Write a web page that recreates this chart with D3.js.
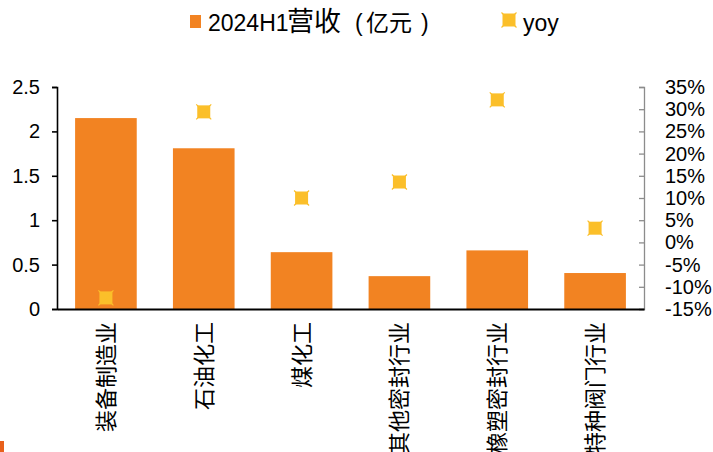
<!DOCTYPE html>
<html>
<head>
<meta charset="utf-8">
<script src="https://cdn.jsdelivr.net/npm/d3@7/dist/d3.min.js"></script>
<style>
  html, body { margin: 0; padding: 0; background: #fff; }
  svg { display: block; }
  text { font-family: "Liberation Sans", Arial, "Noto Sans CJK SC", sans-serif; }
</style>
</head>
<body>
<svg id="chart" width="713" height="452"></svg>
<script>
// 2024H1 revenue by segment (亿元) and year-over-year growth
const categories = ["装备制造业", "石油化工", "煤化工", "其他密封行业", "橡塑密封行业", "特种阀门行业"];
const revenue = [2.15, 1.81, 0.64, 0.37, 0.66, 0.405];
const yoy = [-12.5, 29.4, 10.0, 13.6, 32.1, 3.2];
const leftTicks = [0, 0.5, 1, 1.5, 2, 2.5];
const rightTicks = [-15, -10, -5, 0, 5, 10, 15, 20, 25, 30, 35];

const barColor = "#F28322";
const markColor = "#FBBF2A";

const svg = d3.select("#chart");
const plotL = 57, plotR = 644, plotT = 87, plotB = 309;

const x = d3.scaleBand().domain(categories).range([plotL, plotR]).paddingInner(0.37).paddingOuter(0.185);
const yL = d3.scaleLinear().domain([0, 2.5]).range([plotB, plotT]);
const yR = d3.scaleLinear().domain([-15, 35]).range([plotB, plotT]);

// bars
svg.append("g").selectAll("rect").data(categories).join("rect")
  .attr("x", d => x(d))
  .attr("width", x.bandwidth())
  .attr("y", (d, i) => yL(revenue[i]))
  .attr("height", (d, i) => yL(0) - yL(revenue[i]))
  .attr("fill", barColor);

// right axis (gray, ticks pointing inward)
const rAxis = svg.append("g").attr("transform", `translate(${plotR},0)`)
  .call(d3.axisLeft(yR).tickValues(rightTicks).tickSize(5).tickFormat(d => d + "%"));
rAxis.select(".domain").attr("stroke", "#8c8c8c").attr("stroke-width", 1.3);
rAxis.selectAll(".tick line").attr("stroke", "#8c8c8c").attr("stroke-width", 1.3);
rAxis.selectAll(".tick text")
  .attr("x", 21).attr("text-anchor", "start")
  .attr("font-size", 20).attr("fill", "#000")
  .attr("font-family", "'Liberation Sans', Arial, sans-serif");

// left axis
const lAxis = svg.append("g").attr("transform", `translate(${plotL},0)`)
  .call(d3.axisLeft(yL).tickValues(leftTicks).tickSize(5).tickFormat(d3.format("")));
lAxis.select(".domain").attr("stroke", "#000").attr("stroke-width", 1.6);
lAxis.selectAll(".tick line").attr("stroke", "#000").attr("stroke-width", 1.6);
lAxis.selectAll(".tick text")
  .attr("x", -17).attr("font-size", 20).attr("fill", "#000")
  .attr("font-family", "'Liberation Sans', Arial, sans-serif");

// category axis
const xAxis = svg.append("g").attr("transform", `translate(0,${plotB})`)
  .call(d3.axisBottom(x).tickSize(0));
xAxis.select(".domain").attr("stroke", "#000").attr("stroke-width", 2.2);
xAxis.selectAll(".tick text")
  .attr("transform", "rotate(-90)")
  .attr("x", -13).attr("y", 0).attr("dy", "0.36em")
  .attr("text-anchor", "end")
  .attr("font-size", 22).attr("fill", "#000")
  .attr("font-family", "'Noto Sans CJK SC', sans-serif");

// yoy markers: filled square with small corner nubs
function marker(g, cx, cy) {
  g.append("rect").attr("x", cx - 6.5).attr("y", cy - 6.5).attr("width", 13).attr("height", 13).attr("fill", markColor);
  g.append("path")
    .attr("d", `M${cx - 7.5},${cy - 7.5}L${cx + 7.5},${cy + 7.5}M${cx + 7.5},${cy - 7.5}L${cx - 7.5},${cy + 7.5}`)
    .attr("stroke", markColor).attr("stroke-width", 1.2);
}
const mg = svg.append("g");
categories.forEach((c, i) => marker(mg, x(c) + x.bandwidth() / 2, yR(yoy[i])));

// legend
const lg = svg.append("g");
lg.append("rect").attr("x", 190).attr("y", 15).attr("width", 11).attr("height", 13).attr("fill", barColor);
const lt = lg.append("text").attr("y", 31).attr("fill", "#000");
lt.append("tspan").attr("x", 208).attr("font-size", 23).attr("font-family", "'Liberation Sans', Arial, sans-serif").text("2024H1");
lt.append("tspan").attr("x", 287).attr("font-size", 27).attr("font-family", "'Noto Sans CJK SC', sans-serif").text("营收");
lt.append("tspan").attr("x", 355).attr("font-size", 23).attr("font-family", "'Liberation Sans', Arial, sans-serif").text("(");
lt.append("tspan").attr("x", 366).attr("font-size", 23).attr("font-family", "'Noto Sans CJK SC', sans-serif").text("亿元");
lt.append("tspan").attr("x", 421).attr("font-size", 23).attr("font-family", "'Liberation Sans', Arial, sans-serif").text(")");
marker(lg, 509, 20);
lg.append("text").attr("x", 523).attr("y", 31).attr("font-size", 23).attr("fill", "#000").text("yoy");

// small cropped swatch at lower left edge
svg.append("rect").attr("x", 0).attr("y", 441).attr("width", 4).attr("height", 11).attr("fill", "#E8601C");
</script>
</body>
</html>
